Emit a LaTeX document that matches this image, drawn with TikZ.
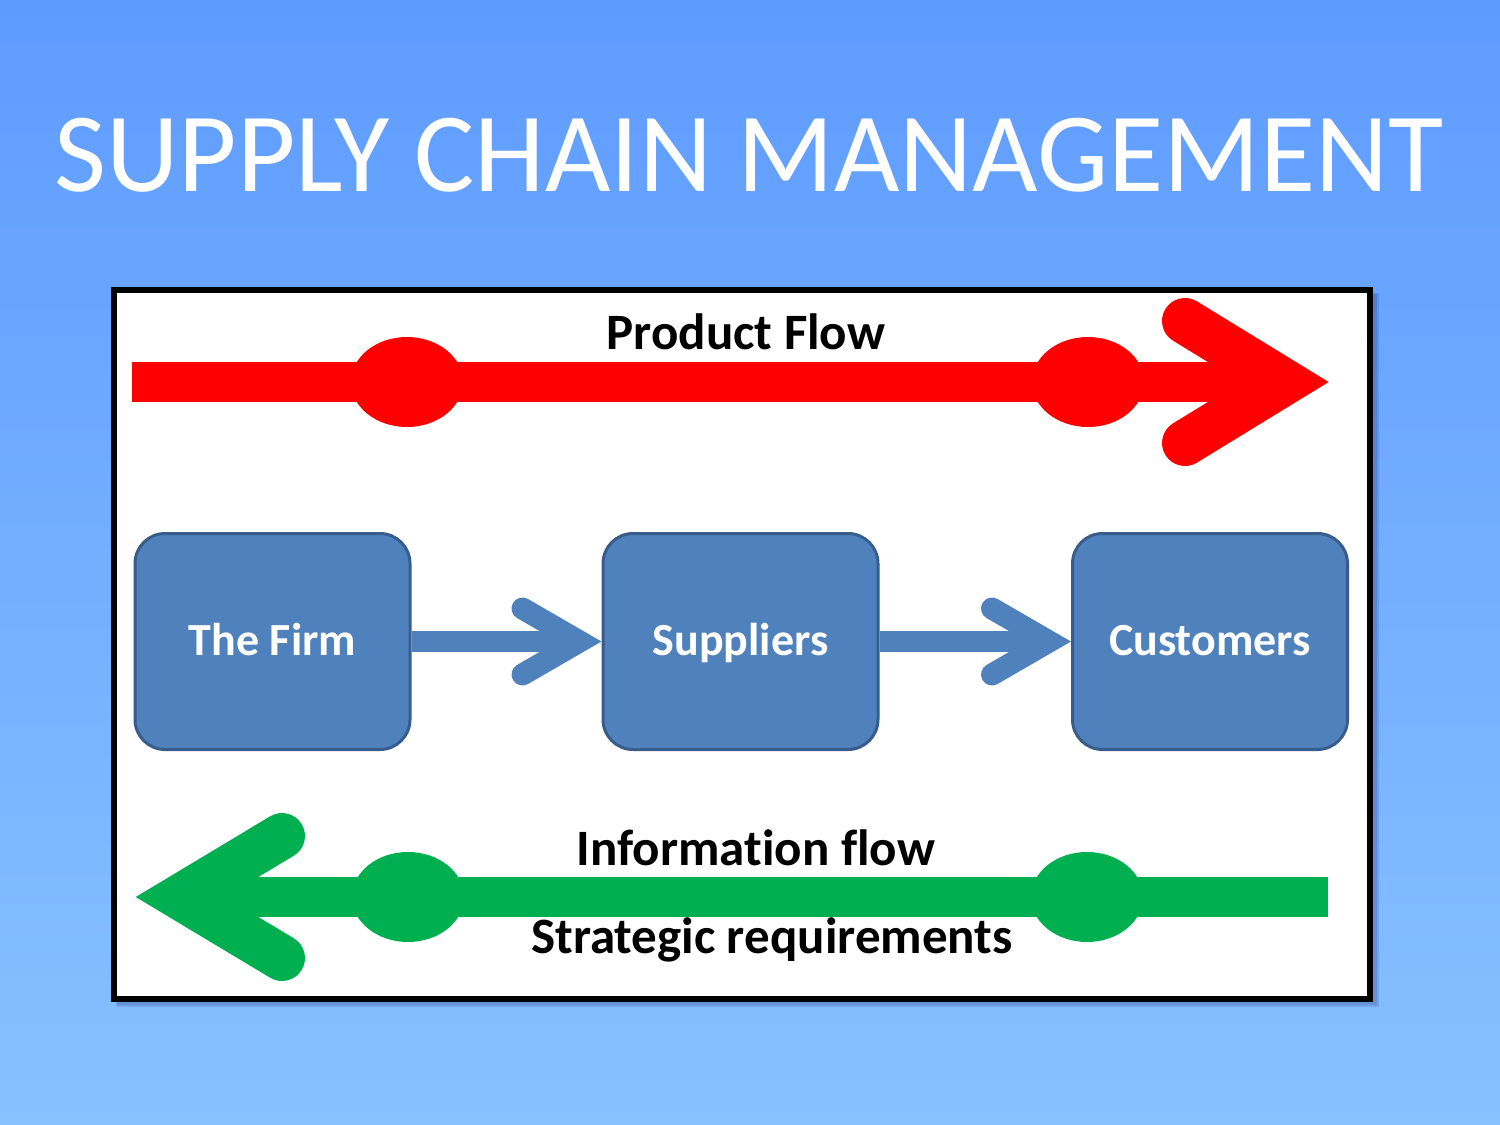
\documentclass[tikz,border=0pt]{standalone}
\usepackage{fontspec}
\setmainfont{Carlito}[Ligatures={NoCommon,NoRequired}]
\usetikzlibrary{calc}
\definecolor{bgtop}{RGB}{94,155,255}
\definecolor{bgbot}{RGB}{136,193,255}
\definecolor{boxfill}{RGB}{79,129,189}
\definecolor{boxline}{RGB}{56,93,138}
\definecolor{pred}{RGB}{255,0,0}
\definecolor{igreen}{RGB}{0,176,80}
\tikzset{
  stepbox/.style={draw=boxline, line width=3pt, fill=boxfill, rounded corners=30pt,
    minimum width=275pt, minimum height=216pt, inner sep=0pt,
    text=white, font=\fontsize{46}{50}\selectfont\bfseries,
    text height=30pt, text depth=2pt},
  label/.style={anchor=base, inner sep=0pt, font=\fontsize{51}{56}\selectfont\bfseries, text=black},
  bluebar/.style={draw=boxfill, line width=21pt},
  bluehead/.style={draw=boxfill, line width=22pt, line cap=round, line join=miter, miter limit=10},
  bigbar/.style={line width=40pt},
  bighead/.style={line width=46pt, line cap=round, line join=miter, miter limit=10},
}
\begin{document}
\begin{tikzpicture}[x=1pt,y=-1pt]
\useasboundingbox (0,0) rectangle (1500,1125);
\shade[top color=bgtop, bottom color=bgbot] (0,0) rectangle (1500,1125);
% title
\node[anchor=base, inner sep=0pt, text=white, font=\fontsize{113}{120}\selectfont] (title) at (749,191) {SUPPLY CHAIN MANAGEMENT};
% frame shadow
\fill[black!70!blue, opacity=0.12] (116,293) rectangle (1379,1007);
\fill[black!70!blue, opacity=0.12] (117,294) rectangle (1377,1005);
% frame
\draw[line width=6pt, fill=white] (113.5,290) rectangle (1370,999);
% product flow (red)
\coordinate (pstart) at (132,382);
\coordinate (pend) at (1328,382);
\draw[pred, bigbar] (pstart) -- ($(pend)+(-43,0)$);
\fill[pred] (407,382) ellipse (56 and 45);
\fill[pred] (1088,382) ellipse (56 and 45);
\draw[pred, bighead] ($(pend)+(-143,-61)$) -- ($(pend)+(-43.4,0)$) -- ($(pend)+(-143,61)$);
\node[label] (pf) at (746,349) {Product Flow};
% information flow (green)
\coordinate (istart) at (1328,897);
\coordinate (iend) at (137,897);
\draw[igreen, bigbar] (istart) -- ($(iend)+(43,0)$);
\fill[igreen] (408,897) ellipse (56 and 45);
\fill[igreen] (1087,897) ellipse (56 and 45);
\draw[igreen, bighead] ($(iend)+(145,-61)$) -- ($(iend)+(43.4,0)$) -- ($(iend)+(145,61)$);
\node[label] (inf) at (756,865) {Information flow};
\node[label] (str) at (772,953) {Strategic requirements};
% boxes
\node[stepbox] (firm) at (272.5,641.5) {The Firm};
\node[stepbox] (sup) at (740.5,641.5) {Suppliers};
\node[stepbox] (cust) at (1210,641.5) {Customers};
% blue arrows
\draw[bluebar] (firm.east) -- ($(sup.west)+(-22,0)$);
\draw[bluehead] ($(sup.west)+(-79,-33)$) -- ($(sup.west)+(-22,0)$) -- ($(sup.west)+(-79,33)$);
\draw[bluebar] (sup.east) -- ($(cust.west)+(-22,0)$);
\draw[bluehead] ($(cust.west)+(-79,-33)$) -- ($(cust.west)+(-22,0)$) -- ($(cust.west)+(-79,33)$);
\end{tikzpicture}
\end{document}
